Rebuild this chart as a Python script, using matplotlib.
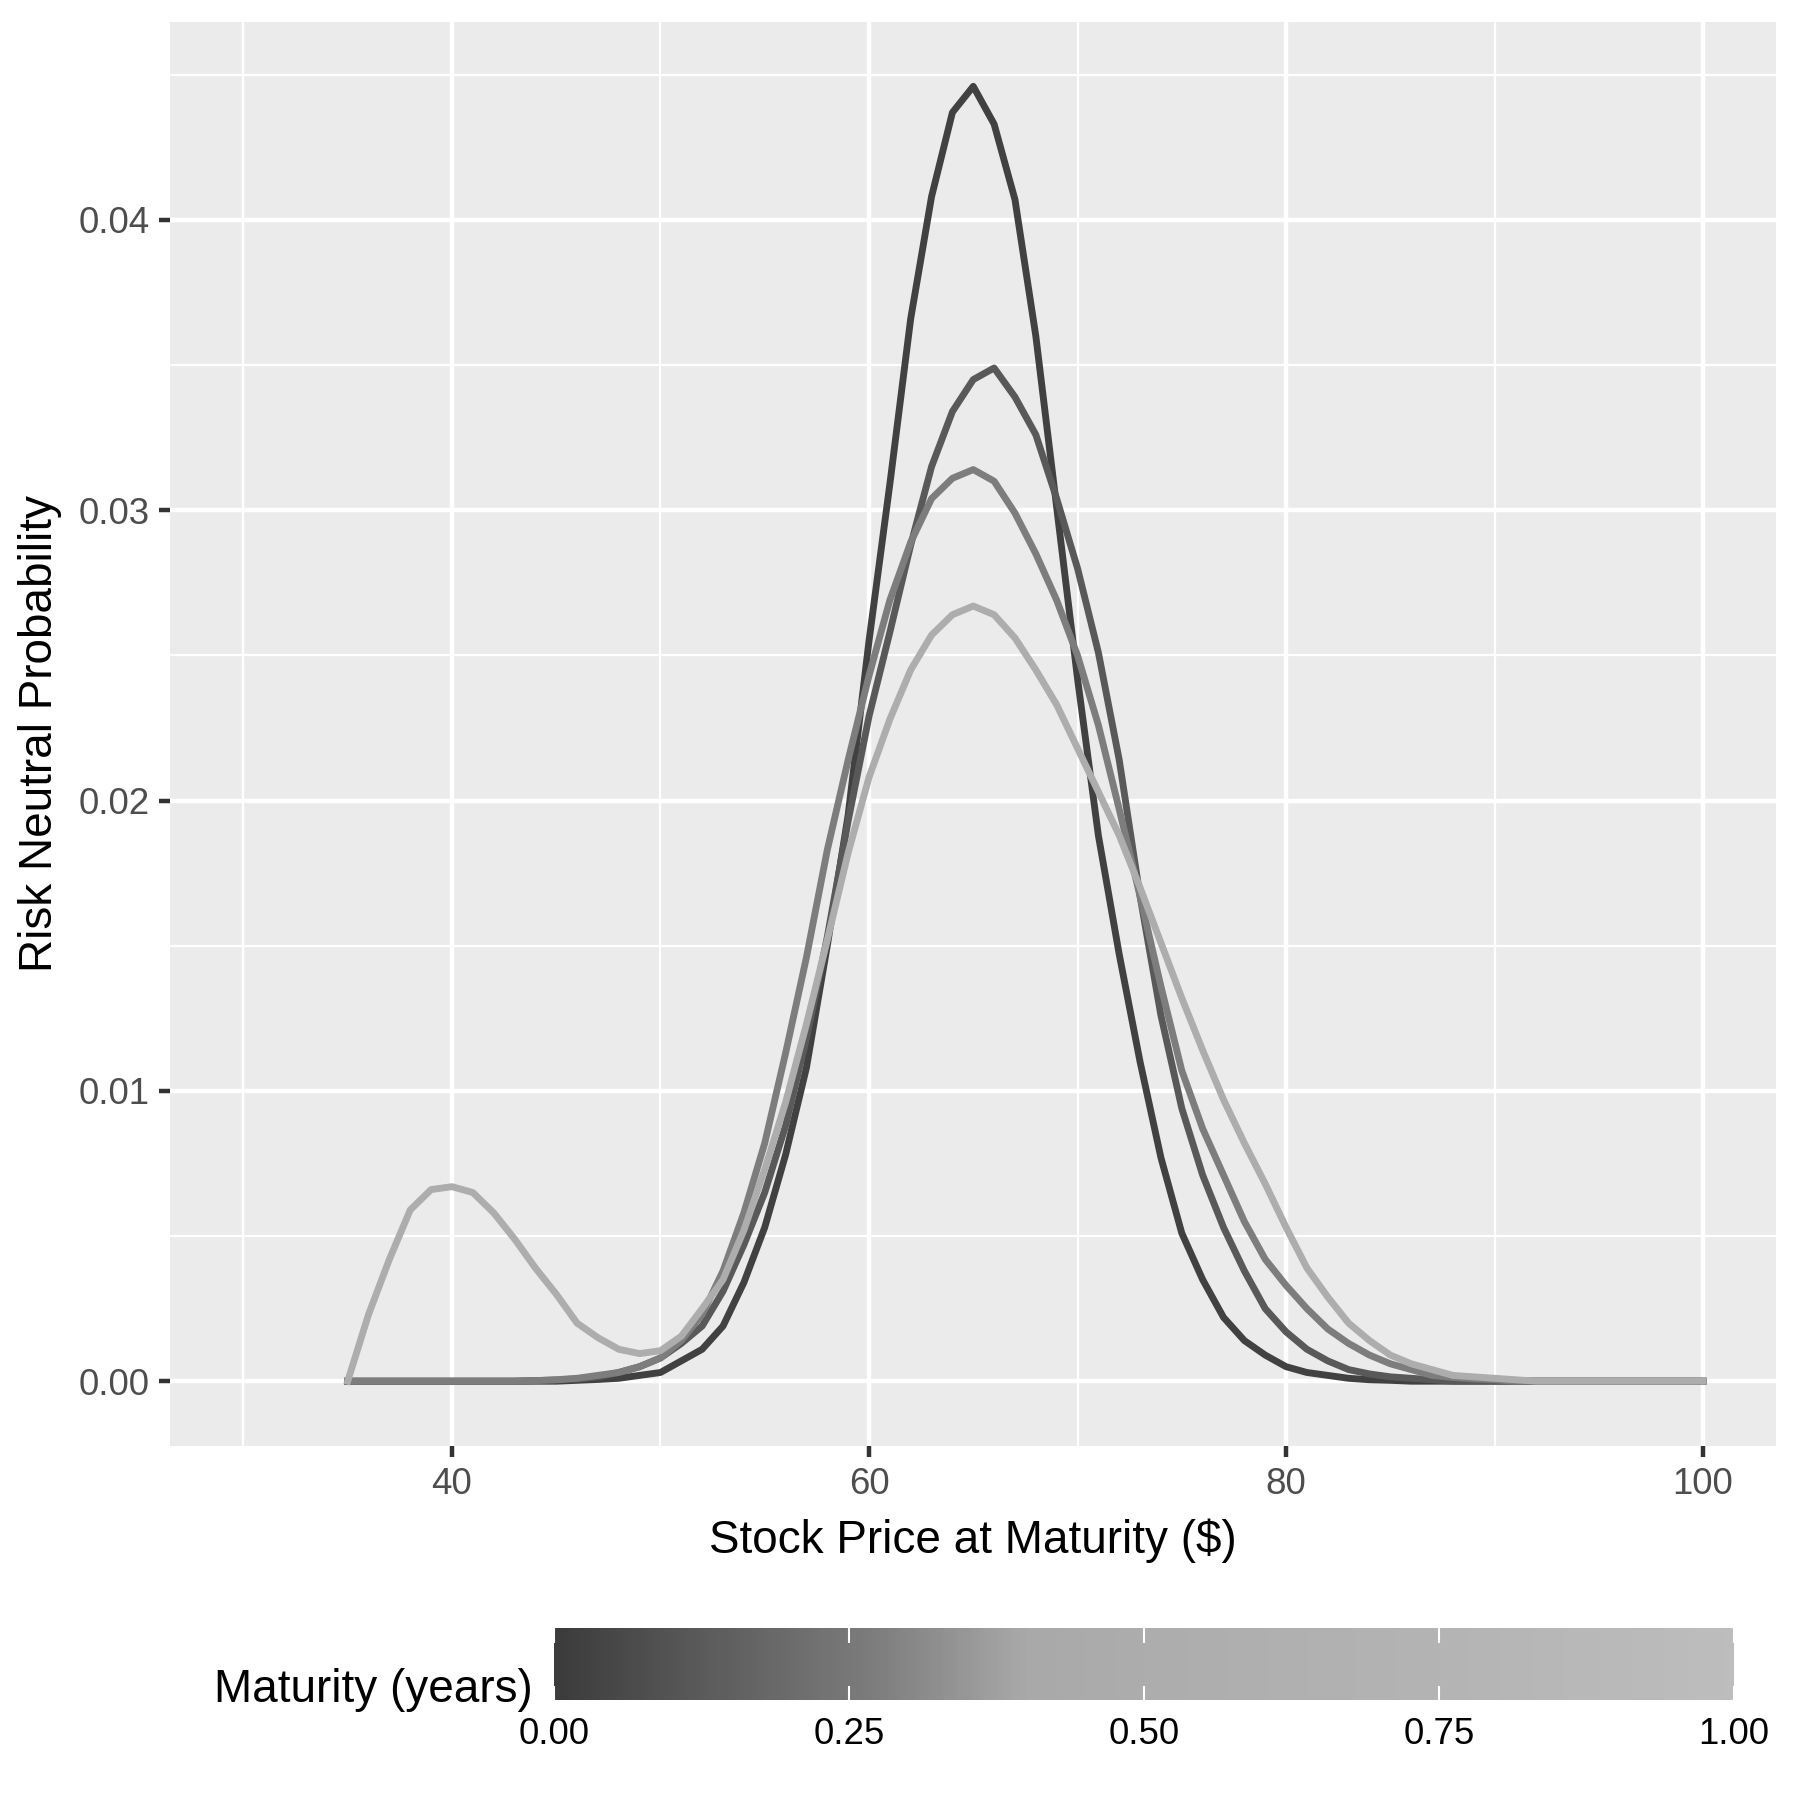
import numpy as np
import matplotlib
matplotlib.use("Agg")
import matplotlib.pyplot as plt
from matplotlib.colors import LinearSegmentedColormap

plt.rcParams['font.family'] = ['Liberation Sans', 'DejaVu Sans']

# stock price grid at maturity ($)
price = np.arange(35, 101)

# risk neutral probabilities, one list per maturity
prob_a = [0, 0, 0, 0, 0, 0, 0, 0, 0, 0, 0,
          0.00003, 0.00006, 0.0001, 0.0002, 0.0003, 0.0007, 0.0011, 0.0019, 0.0034, 0.0053,
          0.0078, 0.0108, 0.0150, 0.0195, 0.0255, 0.0309, 0.0366, 0.0408, 0.0437, 0.0446,
          0.0433, 0.0407, 0.0360, 0.0301, 0.0242, 0.0188, 0.0147, 0.0110, 0.0077, 0.0051,
          0.0035, 0.0022, 0.0014, 0.0009, 0.0005, 0.0003, 0.0002, 0.0001, 0.00005, 0.00003,
          0, 0, 0, 0, 0, 0, 0, 0, 0, 0, 0, 0, 0, 0, 0]
prob_b = [0, 0, 0, 0, 0, 0, 0, 0, 0,
          0.00002, 0.00004, 0.00008, 0.00015, 0.0003, 0.0005, 0.0008, 0.0013, 0.0019, 0.0031,
          0.0047, 0.0065, 0.0088, 0.0118, 0.0153, 0.0193, 0.0229, 0.0258, 0.0288, 0.0315,
          0.0334, 0.0345, 0.0349, 0.0339, 0.0326, 0.0304, 0.0280, 0.0251, 0.0214, 0.0167,
          0.0126, 0.0094, 0.0071, 0.0053, 0.0038, 0.0025, 0.0017, 0.0011, 0.0007, 0.0004,
          0.00025, 0.00015, 0.0001, 0.00005,
          0, 0, 0, 0, 0, 0, 0, 0, 0, 0, 0, 0, 0]
prob_c = [0, 0, 0, 0, 0, 0, 0, 0, 0,
          0.00002, 0.00005, 0.0001, 0.0002, 0.0003, 0.0005, 0.0008, 0.0014, 0.0023, 0.0038,
          0.0058, 0.0082, 0.0113, 0.0146, 0.0183, 0.0214, 0.0243, 0.0269, 0.0289, 0.0304,
          0.0311, 0.0314, 0.0310, 0.0299, 0.0285, 0.0269, 0.0250, 0.0226, 0.0197, 0.0167,
          0.0136, 0.0107, 0.0087, 0.0071, 0.0055, 0.0042, 0.0033, 0.0025, 0.0018, 0.0013,
          0.0009, 0.0006, 0.0004, 0.0002, 0.00013, 0.00008, 0.00005,
          0, 0, 0, 0, 0, 0, 0, 0, 0, 0]
prob_d = [0, 0.0023, 0.0042, 0.0059, 0.0066, 0.0067, 0.0065, 0.0058, 0.0049, 0.0039,
          0.0030, 0.0020, 0.0015, 0.0011, 0.00095, 0.00105, 0.00155, 0.0025, 0.0035, 0.0052,
          0.0073, 0.0096, 0.0123, 0.0152, 0.0182, 0.0208, 0.0228, 0.0245, 0.0257, 0.0264,
          0.0267, 0.0264, 0.0256, 0.0245, 0.0233, 0.0218, 0.0203, 0.0188, 0.0170, 0.0151,
          0.0132, 0.0114, 0.0097, 0.0082, 0.0068, 0.0053, 0.0039, 0.0029, 0.0020, 0.0014,
          0.0009, 0.0006, 0.0004, 0.0002, 0.00015, 0.0001, 0.00005,
          0, 0, 0, 0, 0, 0, 0, 0, 0]

maturities = [0.02, 0.12, 0.27, 0.50]
series = [prob_a, prob_b, prob_c, prob_d]

# grey scale of the maturity legend
cmap = LinearSegmentedColormap.from_list('maturity', [
    (0.00, '#3c3c3c'), (0.12, '#5a5a5a'), (0.27, '#7d7d7d'),
    (0.40, '#a9a9a9'), (0.50, '#adadad'), (0.75, '#b4b4b4'), (1.00, '#bdbdbd')])

grid_col = 'white'
panel_col = '#ebebeb'

fig = plt.figure(figsize=(6, 6), dpi=300)
ax = fig.add_axes([0.0947, 0.1967, 0.892, 0.7913])
ax.set_facecolor(panel_col)
for s in ax.spines.values():
    s.set_visible(False)

ax.set_xlim(26.5, 103.5)
ymax = max(max(s) for s in series)
ax.set_ylim(-0.05 * ymax, 1.05 * ymax)

ax.set_xticks([40, 60, 80, 100])
ax.set_xticks([30, 50, 70, 90], minor=True)
ax.set_yticks([0, 0.01, 0.02, 0.03, 0.04])
ax.set_yticklabels(['0.00', '0.01', '0.02', '0.03', '0.04'])
ax.set_yticks([0.005, 0.015, 0.025, 0.035, 0.045], minor=True)
ax.grid(which='major', color=grid_col, linewidth=1.07)
ax.grid(which='minor', color=grid_col, linewidth=0.53)
ax.set_axisbelow(True)
ax.tick_params(which='major', length=2.75, width=1.07, color='#333333',
               labelsize=8.8, labelcolor='#4d4d4d', pad=2.2)
ax.tick_params(which='minor', length=0)

for m, p in zip(maturities, series):
    ax.plot(price, p, color=cmap(m), linewidth=1.65, solid_joinstyle='round')

ax.set_xlabel('Stock Price at Maturity ($)', fontsize=11, labelpad=4)
ax.set_ylabel('Risk Neutral Probability', fontsize=11, labelpad=4)

# horizontal colour bar at the bottom
cax = fig.add_axes([0.3078, 0.0555, 0.6555, 0.040])
grad = np.linspace(0, 1, 300).reshape(1, -1)
cax.imshow(grad, aspect='auto', cmap=cmap, extent=[0, 1, 0, 1], origin='lower')
cb_ticks = [0, 0.25, 0.5, 0.75, 1.0]
cax.vlines(cb_ticks, 0, 0.2, color='white', linewidth=0.5)
cax.vlines(cb_ticks, 0.8, 1, color='white', linewidth=0.5)
cax.set_xlim(0, 1)
cax.set_ylim(0, 1)
cax.set_xticks(cb_ticks)
cax.set_xticklabels(['0.00', '0.25', '0.50', '0.75', '1.00'])
cax.set_yticks([])
cax.tick_params(length=0, labelsize=8.8, labelcolor='black', pad=4)
for s in cax.spines.values():
    s.set_visible(False)
fig.text(0.296, 0.061, 'Maturity (years)', fontsize=11, ha='right', va='center')

fig.savefig('out.png', dpi=300)
